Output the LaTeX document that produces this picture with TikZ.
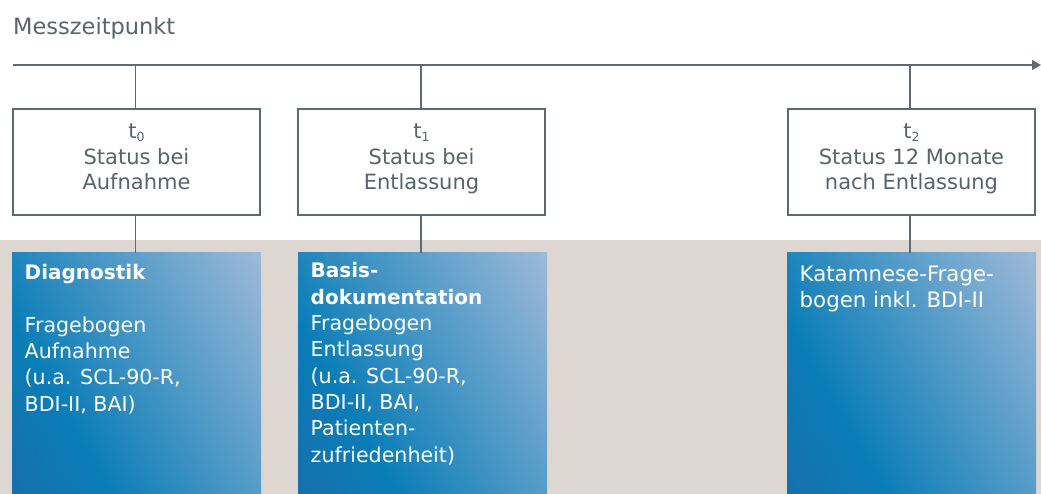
\documentclass[tikz,border=0pt]{standalone}
\usepackage{fontspec}
\setmainfont{DejaVu Sans}
\usetikzlibrary{arrows.meta}
\definecolor{linegray}{HTML}{5E6A72}
\definecolor{txtgray}{HTML}{58646C}
\definecolor{beige}{HTML}{DED6D0}
\definecolor{bdark}{HTML}{1670AC}
\definecolor{bmid}{HTML}{0A7DB7}
\definecolor{blight}{HTML}{9DB9D8}
\pgfdeclarehorizontalshading{blueshd}{100bp}{color(0bp)=(bdark); color(16bp)=(bdark); color(33bp)=(bmid); color(84bp)=(blight); color(100bp)=(blight)}
\tikzset{
  conn/.style={draw=linegray, line width=1.3pt},
  timebox/.style={draw=linegray, line width=1.3pt, fill=white},
  bluebox/.style={shading=blueshd, shading angle=30, draw=none},
  boxtext/.style={text=txtgray, align=center, anchor=base, inner sep=0pt, font=\fontsize{21}{25.5}\selectfont},
  bluetext/.style={text=white, align=left, anchor=base west, inner sep=0pt, font=\fontsize{20.6}{26.3}\selectfont},
}
\newcommand{\tsub}[1]{t\raisebox{-0.25ex}{\fontsize{12.5}{12.5}\selectfont #1}}
\newcommand{\bhead}[1]{{\fontsize{20}{26.3}\selectfont\bfseries #1}}
\begin{document}
\begin{tikzpicture}[x=1pt,y=-1pt]
\useasboundingbox (0,0) rectangle (1041,494);
% beige band
\fill[beige] (0,240) rectangle (1041,494);
% title
\node[anchor=base west, inner sep=0pt, text=txtgray, font=\fontsize{22.5}{26}\selectfont] (title) at (13,35) {Messzeitpunkt};
% axis
\coordinate (axs) at (12.5,65);
\coordinate (axe) at (1041,65);
\draw[conn, -{Triangle[length=9pt,width=10pt]}] (axs) -- (axe);
\coordinate (k0) at (135.5,65);
\coordinate (k1) at (421,65);
\coordinate (k2) at (910,65);
% time boxes
\node[timebox, minimum width=247pt, minimum height=106pt, inner sep=0pt] (b0) at (136.5,162) {};
\node[timebox, minimum width=247pt, minimum height=106pt, inner sep=0pt] (b1) at (421.5,162) {};
\node[timebox, minimum width=247pt, minimum height=106pt, inner sep=0pt] (b2) at (911.5,162) {};
\draw[conn] (k0) -- (k0 |- b0.north);
\draw[conn] (k1) -- (k1 |- b1.north);
\draw[conn] (k2) -- (k2 |- b2.north);
\node[boxtext] (t0) at (136.5,190) {\tsub{0}\\Status bei\\Aufnahme};
\node[boxtext] (t1) at (421.5,190) {\tsub{1}\\Status bei\\Entlassung};
\node[boxtext] (t2) at (911.5,190) {\tsub{2}\\Status 12 Monate\\nach Entlassung};
% blue boxes
\path[bluebox] (12,253) rectangle (261,494);
\path[bluebox] (298,253) rectangle (547,494);
\path[bluebox] (787,253) rectangle (1036,494);
\coordinate (u0) at (135.5,253);
\coordinate (u1) at (421,253);
\coordinate (u2) at (910,253);
\draw[conn] (b0.south -| u0) -- (u0);
\draw[conn] (b1.south -| u1) -- (u1);
\draw[conn] (b2.south -| u2) -- (u2);
\node[bluetext] (d0) at (24.5,411) {\bhead{Diagnostik}\\[26.3pt]Fragebogen\\Aufnahme\\(u.a. SCL-90-R,\\BDI-II, BAI)};
\node[bluetext] (d1) at (310.5,462) {\bhead{Basis-}\\\bhead{dokumentation}\\Fragebogen\\Entlassung\\(u.a. SCL-90-R,\\BDI-II, BAI,\\Patienten-\\zufriedenheit)};
\node[bluetext, font=\fontsize{21.3}{26}\selectfont] (d2) at (799.5,308) {Katamnese-Frage-\\bogen inkl. BDI-II};
\end{tikzpicture}
\end{document}
